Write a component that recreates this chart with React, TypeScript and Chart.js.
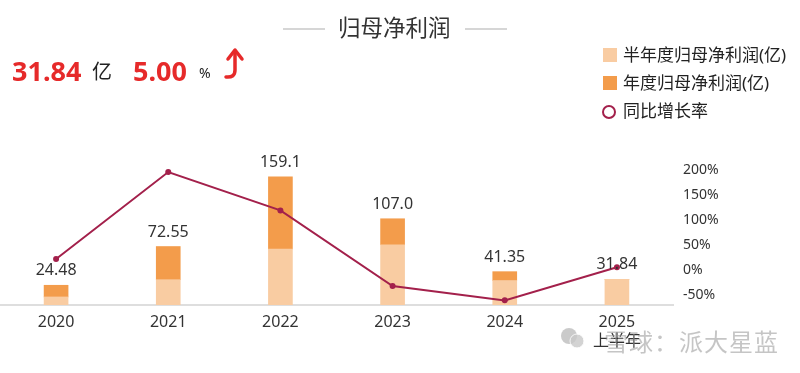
import React, { useEffect, useRef } from "react";
import { Chart, registerables } from "chart.js";

Chart.register(...registerables);

const categories: (string | string[])[] = ["2020", "2021", "2022", "2023", "2024", ["2025", "上半年"]];
const halfYearProfit = [10.0, 31.4, 69.5, 74.8, 30.32, 31.84];
const annualProfit = [24.48, 72.55, 159.1, 107.0, 41.35, 31.84];
const annualLabels = ["24.48", "72.55", "159.1", "107.0", "41.35", "31.84"];
const growthRate = [21.7, 196.4, 119.3, -32.7, -61.4, 5.0];

const seriesNames = ["半年度归母净利润(亿)", "年度归母净利润(亿)", "同比增长率"];
const title = "归母净利润";
const headlineValue = "31.84";
const headlineUnit = "亿";
const headlineRate = "5.00";
const headlineRateUnit = "%";
const watermark = "雪球：派大星蓝";

const FONT = '"Noto Sans", "Noto Sans CJK SC", sans-serif';
const LIGHT = "#f9cca2";
const DARK = "#f39c4b";
const LINE = "#a3204b";
const RED = "#e62a2a";

const SHIFT = 4;

const barLabelPlugin = {
  id: "barLabels",
  afterDatasetsDraw(chart: any) {
    const ctx = chart.ctx;
    const meta = chart.getDatasetMeta(2);
    const y = chart.scales.y;
    ctx.save();
    ctx.font = `16px ${FONT}`;
    ctx.fillStyle = "#333";
    ctx.textAlign = "center";
    ctx.textBaseline = "alphabetic";
    meta.data.forEach((el: any, i: number) => {
      const py = y.getPixelForValue(annualProfit[i]);
      ctx.fillText(annualLabels[i], el.x, py - 10);
    });
    ctx.restore();
  },
};

export default function App() {
  const ref = useRef<HTMLCanvasElement>(null);

  useEffect(() => {
    if (!ref.current) return;
    const darkPart = annualProfit.map((v, i) => Math.max(0, +(v - halfYearProfit[i]).toFixed(2)));
    const chart = new Chart(ref.current, {
      type: "bar",
      data: {
        labels: categories as any,
        datasets: [
          {
            type: "line",
            label: seriesNames[2],
            data: growthRate,
            yAxisID: "y1",
            borderColor: LINE,
            backgroundColor: LINE,
            borderWidth: 2,
            pointRadius: 3,
            pointBackgroundColor: LINE,
            pointBorderWidth: 0,
            order: 0,
          } as any,
          {
            type: "bar",
            label: seriesNames[0],
            data: halfYearProfit,
            yAxisID: "y",
            backgroundColor: LIGHT,
            barThickness: 24,
            stack: "s",
            order: 1,
          },
          {
            type: "bar",
            label: seriesNames[1],
            data: darkPart,
            yAxisID: "y",
            backgroundColor: DARK,
            barThickness: 24,
            stack: "s",
            order: 1,
          },
        ],
      },
      options: {
        animation: false,
        responsive: false,
        maintainAspectRatio: false,
        layout: { padding: { left: 0, right: 80, top: 150, bottom: 0 } },
        plugins: { legend: { display: false }, tooltip: { enabled: false } },
        scales: {
          x: {
            stacked: true,
            grid: { display: false, drawTicks: false },
            border: { color: "#dedede", width: 2 },
            ticks: { color: "#333", font: { size: 16, family: FONT }, padding: 8, maxRotation: 0, autoSkip: false },
            afterFit: (s: any) => {
              s.height = 68;
            },
          },
          y: {
            stacked: true,
            display: false,
            min: 0,
            max: 192.3,
          },
          y1: {
            position: "right",
            min: -70.7,
            max: 240.6,
            grid: { display: false, drawTicks: false },
            border: { display: false },
            ticks: {
              stepSize: 50,
              includeBounds: false,
              color: "#333",
              font: { size: 14, family: FONT },
              padding: 10,
              callback: (v: any) => `${v}%`,
            },
            afterFit: (s: any) => {
              s.width = 47;
            },
          },
        },
      },
      plugins: [barLabelPlugin],
    });
    return () => chart.destroy();
  }, []);

  const abs = (left: number, cy: number, lh: number): React.CSSProperties => ({
    position: "absolute",
    left,
    top: cy - lh / 2,
    lineHeight: `${lh}px`,
    height: lh,
    whiteSpace: "nowrap",
    fontFamily: FONT,
  });

  return (
    <div style={{ position: "absolute", left: 0, top: 0, width: 800, height: 373, background: "#fff", overflow: "hidden" }}>
      <canvas
        ref={ref}
        width={800 + SHIFT}
        height={373}
        style={{ position: "absolute", left: -SHIFT, top: 0, width: 800 + SHIFT, height: 373 }}
      />

      {/* title */}
      <div style={{ position: "absolute", left: 283, top: 28, width: 42, height: 2, background: "#d6d6d6" }} />
      <div style={{ position: "absolute", left: 465, top: 28, width: 42, height: 2, background: "#d6d6d6" }} />
      <div style={{ ...abs(338, 28, 30), fontSize: 22.5, color: "#333" }}>{title}</div>

      {/* headline */}
      <div style={{ ...abs(12, 71, 34), fontSize: 27, fontWeight: 700, color: RED }}>{headlineValue}</div>
      <div style={{ ...abs(92, 72, 26), fontSize: 20, color: "#222" }}>{headlineUnit}</div>
      <div style={{ ...abs(133, 71, 34), fontSize: 27, fontWeight: 700, color: RED }}>{headlineRate}</div>
      <div style={{ ...abs(199, 73, 20), fontSize: 14, color: "#222" }}>{headlineRateUnit}</div>
      <svg style={{ position: "absolute", left: 220, top: 44 }} width={30} height={40}>
        <path d="M6 33 Q15 34 15 26 L15 8" stroke={RED} strokeWidth={3.5} fill="none" strokeLinecap="round" />
        <path d="M8 15 L15 6 L22 15" stroke={RED} strokeWidth={3.5} fill="none" strokeLinecap="round" strokeLinejoin="round" />
      </svg>

      {/* legend */}
      <div style={{ position: "absolute", left: 603, top: 48, width: 14, height: 14, background: LIGHT }} />
      <div style={{ ...abs(623, 55, 22), fontSize: 17, color: "#222" }}>{seriesNames[0]}</div>
      <div style={{ position: "absolute", left: 603, top: 76, width: 14, height: 14, background: DARK }} />
      <div style={{ ...abs(623, 83, 22), fontSize: 17, color: "#222" }}>{seriesNames[1]}</div>
      <div
        style={{
          position: "absolute",
          left: 602,
          top: 105,
          width: 10,
          height: 10,
          borderRadius: "50%",
          border: `2.5px solid ${LINE}`,
        }}
      />
      <div style={{ ...abs(623, 111, 22), fontSize: 17, color: "#222" }}>{seriesNames[2]}</div>

      {/* watermark */}
      <svg style={{ position: "absolute", left: 558, top: 327 }} width={30} height={24}>
        <circle cx={11} cy={9} r={8} fill="#bdbdbd" opacity={0.8} />
        <circle cx={19} cy={14} r={7} fill="#c8c8c8" opacity={0.8} stroke="#fff" strokeWidth={1} />
      </svg>
      <div style={{ ...abs(604, 342, 30), fontSize: 24, color: "rgba(150,150,150,0.55)", letterSpacing: 1 }}>{watermark}</div>
    </div>
  );
}
